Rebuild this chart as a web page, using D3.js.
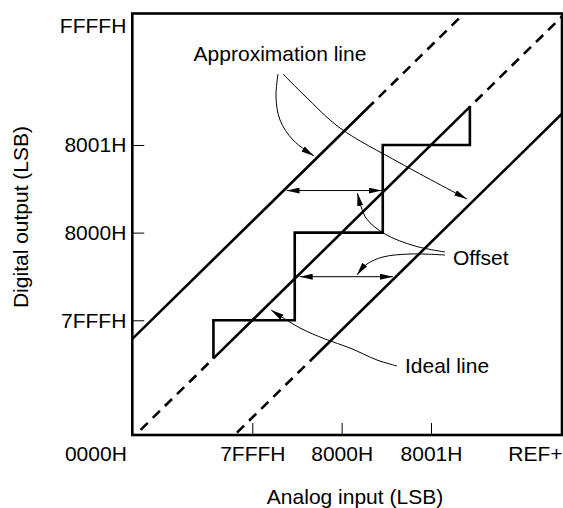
<!DOCTYPE html>
<html>
<head>
<meta charset="utf-8">
<script src="https://cdn.jsdelivr.net/npm/d3@7"></script>
<style>
  html, body { margin: 0; padding: 0; background: #fff; }
  svg { display: block; }
  text { font-family: "Liberation Sans", Arial, Helvetica, sans-serif; font-size: 21px; fill: #000; }
</style>
</head>
<body>
<svg id="chart" width="563" height="508"></svg>
<script>
// ---- data (LSB units; 7FFFH = 1, 8000H = 2, 8001H = 3) ----
const xLabels = ["0000H", "7FFFH", "8000H", "8001H", "REF+"];
const xTickValues = [-0.343, 1, 2, 3, 4.466];
const yLabels = ["7FFFH", "8000H", "8001H", "FFFFH"];
const yTickValues = [1, 2, 3, 4.5];
const yMin = -0.309;

// transfer lines: y = x + offset
const lineNames = ["Approximation line (high)", "Ideal line", "Approximation line (low)"];
const lineOffsets = [1.13, 0, -1.11];
const solidFrom = [-0.343, 0.565, 1.643];
const solidTo = [2.36, 3.44, 4.466];

// staircase (actual conversion characteristic)
const stairX = [0.565, 0.565, 1.475, 1.475, 2.46, 2.46, 3.435, 3.435];
const stairY = [0.565, 1, 1, 2, 2, 3, 3, 3.445];

// offset measurement arrows: level, from line index, to line index
const offsetLevels = [2.48, 1.497];
const offsetFrom = [0, 1];
const offsetTo = [1, 2];

(function () {
// ---- layout ----
const pL = 132.3, pR = 562, pT = 13.5, pB = 435;
const svg = d3.select("#chart");

const x = d3.scaleLinear().domain([xTickValues[0], xTickValues[xTickValues.length - 1]]).range([pL, pR]);
const y = d3.scaleLinear().domain([yMin, yTickValues[yTickValues.length - 1]]).range([pB, pT]);

const defs = svg.append("defs");
defs.append("clipPath").attr("id", "plotclip")
  .append("rect").attr("x", pL).attr("y", pT).attr("width", pR - pL).attr("height", pB - pT);
defs.append("marker").attr("id", "ah")
  .attr("viewBox", "0 -3 13 6").attr("refX", 13).attr("refY", 0)
  .attr("markerWidth", 13).attr("markerHeight", 6).attr("markerUnits", "userSpaceOnUse")
  .attr("orient", "auto-start-reverse")
  .append("path").attr("d", "M0,-3L13,0L0,3Z").attr("fill", "#000");

// axes
const xAxis = d3.axisBottom(x).tickValues(xTickValues).tickFormat((d, i) => xLabels[i])
  .tickSizeInner(-12).tickSizeOuter(0).tickPadding(11);
const gx = svg.append("g").attr("transform", `translate(0,${pB})`).call(xAxis);
gx.select(".domain").remove();
gx.attr("font-family", null).attr("font-size", null);
gx.selectAll(".tick text").attr("fill", "#000");
gx.selectAll(".tick line").attr("stroke", "#000").attr("stroke-width", 1);
gx.selectAll(".tick").filter((d, i) => i === 0 || i === xTickValues.length - 1).select("line").remove();
gx.selectAll(".tick").filter((d, i) => i === 0).select("text").attr("text-anchor", "end").attr("x", -6);
gx.selectAll(".tick").filter((d, i) => i === xTickValues.length - 1).select("text").attr("text-anchor", "end").attr("x", 0);

const yAxis = d3.axisLeft(y).tickValues(yTickValues).tickFormat((d, i) => yLabels[i])
  .tickSizeInner(-12).tickSizeOuter(0).tickPadding(6);
const gy = svg.append("g").attr("transform", `translate(${pL},0)`).call(yAxis);
gy.select(".domain").remove();
gy.attr("font-family", null).attr("font-size", null);
gy.selectAll(".tick text").attr("fill", "#000");
gy.selectAll(".tick line").attr("stroke", "#000").attr("stroke-width", 1);
gy.selectAll(".tick").filter((d, i) => i === yTickValues.length - 1).select("line").remove();
gy.selectAll(".tick").filter((d, i) => i === yTickValues.length - 1).select("text").attr("y", 12);

// frame
svg.append("rect").attr("x", pL).attr("y", pT).attr("width", pR - pL).attr("height", pB - pT)
  .attr("fill", "none").attr("stroke", "#000").attr("stroke-width", 2.6);

// axis titles
svg.append("text").attr("x", 355).attr("y", 504).attr("text-anchor", "middle").text("Analog input (LSB)");
svg.append("text").attr("transform", "translate(28,217) rotate(-90)").attr("text-anchor", "middle").text("Digital output (LSB)");

// lines
const plot = svg.append("g").attr("clip-path", "url(#plotclip)");
const seg = (a, b, off) => `M${x(a)},${y(a + off)}L${x(b)},${y(b + off)}`;
lineOffsets.forEach((off, i) => {
  plot.append("path").attr("d", seg(solidFrom[i], solidTo[i], off))
    .attr("fill", "none").attr("stroke", "#000").attr("stroke-width", 2.6);
  plot.append("path").attr("d", seg(solidFrom[i], xTickValues[0] - 2, off))
    .attr("fill", "none").attr("stroke", "#000").attr("stroke-width", 2.6)
    .attr("stroke-dasharray", "10,7").attr("stroke-dashoffset", 10);
  plot.append("path").attr("d", seg(solidTo[i], xTickValues[xTickValues.length - 1] + 2, off))
    .attr("fill", "none").attr("stroke", "#000").attr("stroke-width", 2.6)
    .attr("stroke-dasharray", "10,7").attr("stroke-dashoffset", 10);
});

// staircase
const stair = d3.line().x(d => x(d[0])).y(d => y(d[1]));
plot.append("path").datum(stairX.map((v, i) => [v, stairY[i]])).attr("d", stair)
  .attr("fill", "none").attr("stroke", "#000").attr("stroke-width", 2.6).attr("stroke-linejoin", "miter");

// offset arrows
offsetLevels.forEach((lv, i) => {
  const xa = x(lv - lineOffsets[offsetFrom[i]]) + 3;
  const xb = x(lv - lineOffsets[offsetTo[i]]) - 3;
  svg.append("line").attr("x1", xa).attr("x2", xb).attr("y1", y(lv)).attr("y2", y(lv))
    .attr("stroke", "#000").attr("stroke-width", 1)
    .attr("marker-start", "url(#ah)").attr("marker-end", "url(#ah)");
});

// callouts
const callout = d3.line().curve(d3.curveCatmullRom.alpha(0.5));
const callouts = [
  [[278, 74], [276, 97], [280, 120], [293, 140], [314, 156]],
  [[283, 74], [305, 96], [340, 128], [400, 163], [467, 199]],
  [[445, 252], [415, 246], [385, 234], [366, 218], [357.5, 193]],
  [[445, 255], [410, 254], [383, 257], [367, 264], [357, 275]],
  [[397, 366], [377, 360], [350, 348], [325, 339], [300, 328], [271, 310]]
];
callouts.forEach(pts => {
  svg.append("path").attr("d", callout(pts)).attr("fill", "none")
    .attr("stroke", "#000").attr("stroke-width", 1).attr("marker-end", "url(#ah)");
});

svg.append("text").attr("x", 280).attr("y", 61).attr("text-anchor", "middle").text("Approximation line");
svg.append("text").attr("x", 453).attr("y", 265).text("Offset");
svg.append("text").attr("x", 405).attr("y", 373).text("Ideal line");
})();
</script>
</body>
</html>
